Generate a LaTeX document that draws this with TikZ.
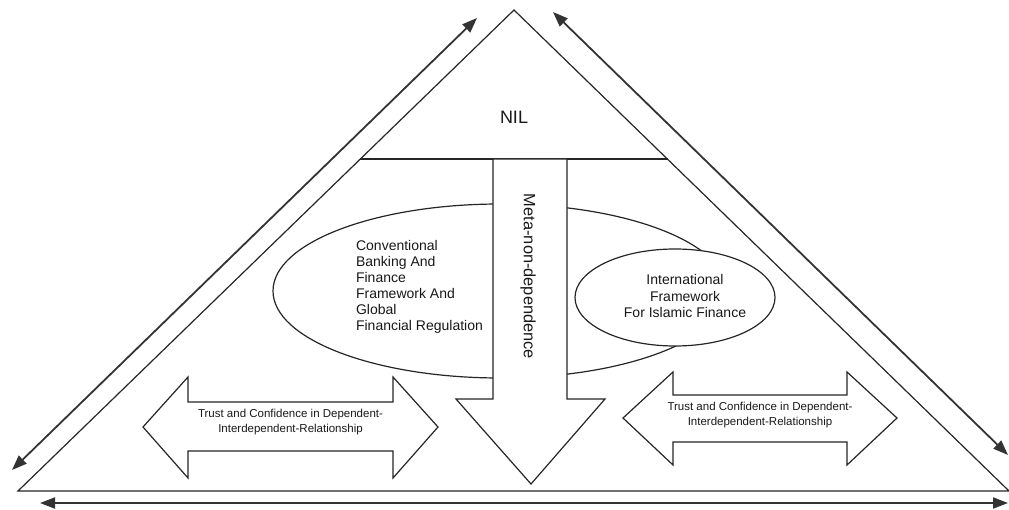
\documentclass[tikz,border=0pt]{standalone}
\usepackage{fontspec}
\setmainfont{Liberation Sans}
\usetikzlibrary{arrows.meta}
\begin{document}
\begin{tikzpicture}[x=1pt,y=-1pt,
  outline/.style={draw=black!85,line width=1.2pt},
  shapebox/.style={draw=black!85,line width=1.2pt,fill=white},
  sidearrow/.style={draw=black!80,line width=1.8pt,{Triangle[length=15pt,width=11pt]}-{Triangle[length=15pt,width=11pt]}},
  lbl/.style={inner sep=0pt,text=black!90}
]
\useasboundingbox[fill=white] (0,0) rectangle (1009,510);
% main triangle
\coordinate (tl) at (18,491);
\coordinate (tt) at (514,10);
\coordinate (tr) at (1009,491);
\draw[outline,line join=miter] (tl) -- (tt) -- (tr) -- cycle;
% outer arrows
\coordinate (la1) at (12,470);
\coordinate (la2) at (477,18);
\coordinate (ra1) at (553,12);
\coordinate (ra2) at (1008,455);
\coordinate (ba1) at (40,503);
\coordinate (ba2) at (1008,503);
\draw[sidearrow] (la1) -- (la2);
\draw[sidearrow] (ra1) -- (ra2);
\draw[sidearrow] (ba1) -- (ba2);
% big ellipse
\draw[shapebox] (500,291) ellipse[x radius=227,y radius=87];
% small ellipse
\draw[shapebox] (675,297.5) ellipse[x radius=100,y radius=48.5];
% NIL line
\coordinate (nl) at (360,159);
\coordinate (nr) at (668,159);
\draw[outline] (nl) -- (nr);
\node[lbl,font=\fontsize{18}{20}\selectfont] (nil) at (514,117) {NIL};
% down arrow
\draw[shapebox,line join=miter] (493,159) -- (567,159) -- (567,399) -- (605,399) -- (531,484) -- (456,399) -- (493,399) -- cycle;
\node[lbl,rotate=-90,font=\fontsize{16.4}{18}\selectfont] (meta) at (528,276.5) {Meta-non-dependence};
% ellipse texts
\node[lbl,align=left,font=\fontsize{14}{16}\selectfont] (conv) at (419.5,287)
  {Conventional\\Banking And\\Finance\\Framework And\\Global\\Financial Regulation};
\node[lbl,align=center,font=\fontsize{14}{16.5}\selectfont] (intl) at (685,296)
  {International\\Framework\\For Islamic Finance};
% left double arrow
\draw[shapebox,line join=miter] (143,427) -- (188,377) -- (188,402) -- (393,402) -- (393,377) -- (438,427) -- (393,478) -- (393,451) -- (188,451) -- (188,478) -- cycle;
\node[lbl,align=center,font=\fontsize{11.5}{15}\selectfont] (trustL) at (290.5,422.5)
  {Trust and Confidence in Dependent-\\Interdependent-Relationship};
% right double arrow
\draw[shapebox,line join=miter] (623,418) -- (673,372) -- (673,395) -- (847,395) -- (847,372) -- (897,418) -- (847,465) -- (847,442) -- (673,442) -- (673,465) -- cycle;
\node[lbl,align=center,font=\fontsize{11.5}{15}\selectfont] (trustR) at (760,415.5)
  {Trust and Confidence in Dependent-\\Interdependent-Relationship};
\end{tikzpicture}
\end{document}
